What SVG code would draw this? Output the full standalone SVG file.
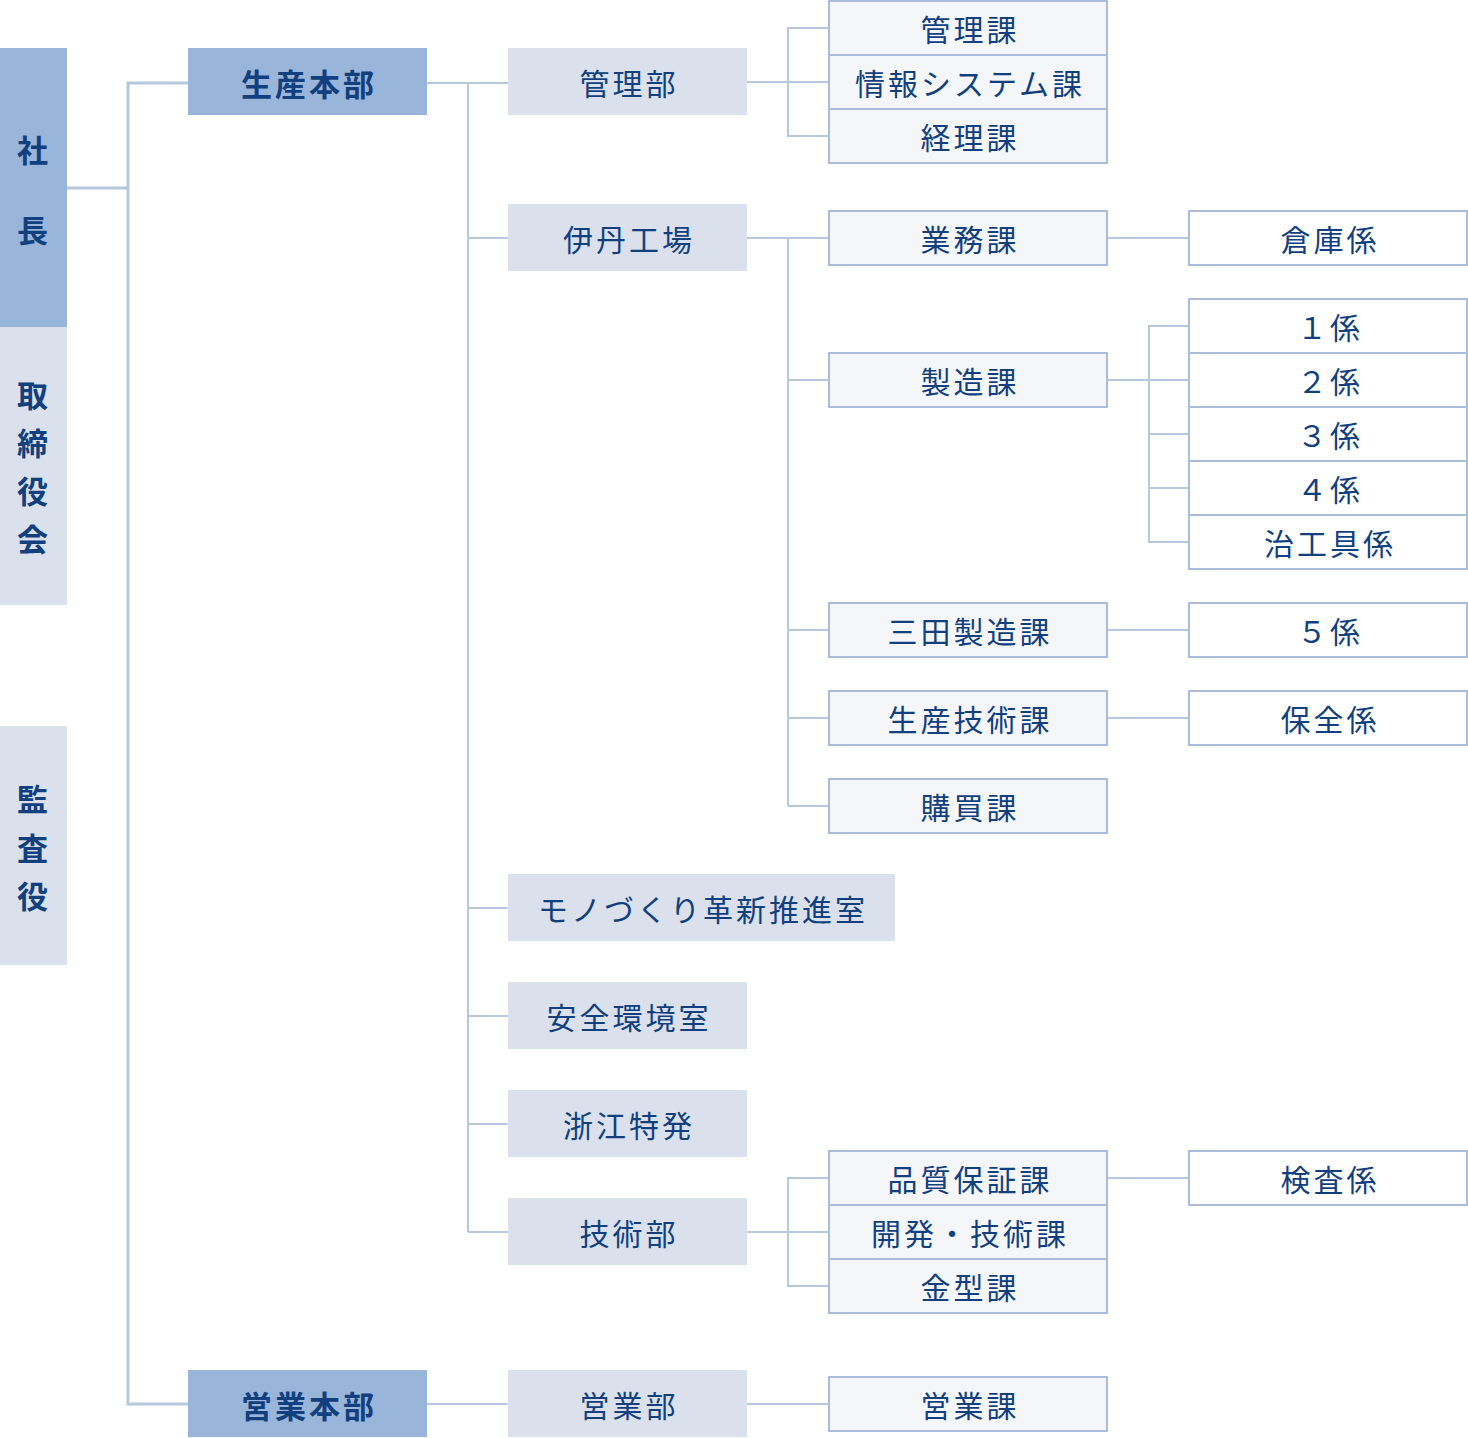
<svg xmlns="http://www.w3.org/2000/svg" width="1468" height="1438" viewBox="0 0 1468 1438">
<style>
text{font-family:"Noto Sans CJK JP","Noto Sans",sans-serif;fill:#123f7e;text-anchor:middle;dominant-baseline:central;font-size:30px;letter-spacing:3px}
.b{font-weight:bold;font-size:31px}
.dk{fill:#99b5da}
.lt{fill:#dae1ec}
.sc{fill:#f4f6fa;stroke:#a9bdd8;stroke-width:2}
.wh{fill:#fff;stroke:#a9bdd8;stroke-width:2}
.c{fill:none;stroke:#b6c8dc;stroke-width:2}
.c3{fill:none;stroke:#b6c8dc;stroke-width:3}
</style>
<g id="connectors">
<path class="c3" d="M67,188H128M188,83H128V1404H188"/>
<path class="c" d="M427,83H508M468,83V1232M468,238H508M468,908H508M468,1016H508M468,1124H508M468,1232H508"/>
<path class="c" d="M747,82H788M829,28H788V136H829M788,82H829"/>
<path class="c" d="M747,238H829M788,238V806M788,380H829M788,630H829M788,718H829M788,806H829"/>
<path class="c" d="M1107,238H1189M1107,630H1189M1107,718H1189M1107,1178H1189"/>
<path class="c" d="M1107,380H1189M1189,326H1149V542H1189M1149,434H1189M1149,488H1189"/>
<path class="c" d="M747,1232H788M829,1178H788V1286H829M788,1232H829"/>
<path class="c" d="M427,1404H508M747,1404H829"/>
</g>
<g id="shacho"><rect class="dk" x="0" y="48" width="67" height="279"/><text class="b" x="34" y="148">社</text><text class="b" x="34" y="228">長</text></g>
<g id="torishimariyakukai"><rect class="lt" x="0" y="327" width="67" height="278"/><text class="b" x="34" y="393">取</text><text class="b" x="34" y="441">締</text><text class="b" x="34" y="489">役</text><text class="b" x="34" y="537">会</text></g>
<g id="kansayaku"><rect class="lt" x="0" y="726" width="67" height="239"/><text class="b" x="34" y="797">監</text><text class="b" x="34" y="846">査</text><text class="b" x="34" y="894">役</text></g>
<g id="seisan-honbu"><rect class="dk" x="188" y="48" width="239" height="67"/><text class="b" x="309" y="82">生産本部</text></g>
<g id="eigyo-honbu"><rect class="dk" x="188" y="1370" width="239" height="67"/><text class="b" x="309" y="1404">営業本部</text></g>
<g id="kanribu"><rect class="lt" x="508" y="48" width="239" height="67"/><text x="629" y="82">管理部</text></g>
<g id="itami"><rect class="lt" x="508" y="204" width="239" height="67"/><text x="629" y="238">伊丹工場</text></g>
<g id="monozukuri"><rect class="lt" x="508" y="874" width="387" height="67"/><text x="703" y="908">モノづくり革新推進室</text></g>
<g id="anzen"><rect class="lt" x="508" y="982" width="239" height="67"/><text x="629" y="1016">安全環境室</text></g>
<g id="zhejiang"><rect class="lt" x="508" y="1090" width="239" height="67"/><text x="629" y="1124">浙江特発</text></g>
<g id="gijutsubu"><rect class="lt" x="508" y="1198" width="239" height="67"/><text x="629" y="1232">技術部</text></g>
<g id="eigyobu"><rect class="lt" x="508" y="1370" width="239" height="67"/><text x="629" y="1404">営業部</text></g>
<g id="kanrika"><rect class="sc" x="829" y="1" width="278" height="54"/><text x="970" y="28">管理課</text></g>
<g id="johoka"><rect class="sc" x="829" y="55" width="278" height="54"/><text x="970" y="82">情報システム課</text></g>
<g id="keirika"><rect class="sc" x="829" y="109" width="278" height="54"/><text x="970" y="136">経理課</text></g>
<g id="gyomuka"><rect class="sc" x="829" y="211" width="278" height="54"/><text x="970" y="238">業務課</text></g>
<g id="seizoka"><rect class="sc" x="829" y="353" width="278" height="54"/><text x="970" y="380">製造課</text></g>
<g id="sanda"><rect class="sc" x="829" y="603" width="278" height="54"/><text x="970" y="630">三田製造課</text></g>
<g id="seigi"><rect class="sc" x="829" y="691" width="278" height="54"/><text x="970" y="718">生産技術課</text></g>
<g id="kobai"><rect class="sc" x="829" y="779" width="278" height="54"/><text x="970" y="806">購買課</text></g>
<g id="hinsho"><rect class="sc" x="829" y="1151" width="278" height="54"/><text x="970" y="1178">品質保証課</text></g>
<g id="kaihatsu"><rect class="sc" x="829" y="1205" width="278" height="54"/><text x="970" y="1232">開発・技術課</text></g>
<g id="kanagata"><rect class="sc" x="829" y="1259" width="278" height="54"/><text x="970" y="1286">金型課</text></g>
<g id="eigyoka"><rect class="sc" x="829" y="1377" width="278" height="54"/><text x="970" y="1404">営業課</text></g>
<g id="soko"><rect class="wh" x="1189" y="211" width="278" height="54"/><text x="1330" y="238">倉庫係</text></g>
<g id="k1"><rect class="wh" x="1189" y="299" width="278" height="54"/><text x="1330" y="326">１係</text></g>
<g id="k2"><rect class="wh" x="1189" y="353" width="278" height="54"/><text x="1330" y="380">２係</text></g>
<g id="k3"><rect class="wh" x="1189" y="407" width="278" height="54"/><text x="1330" y="434">３係</text></g>
<g id="k4"><rect class="wh" x="1189" y="461" width="278" height="54"/><text x="1330" y="488">４係</text></g>
<g id="jigu"><rect class="wh" x="1189" y="515" width="278" height="54"/><text x="1330" y="542">治工具係</text></g>
<g id="k5"><rect class="wh" x="1189" y="603" width="278" height="54"/><text x="1330" y="630">５係</text></g>
<g id="hozen"><rect class="wh" x="1189" y="691" width="278" height="54"/><text x="1330" y="718">保全係</text></g>
<g id="kensa"><rect class="wh" x="1189" y="1151" width="278" height="54"/><text x="1330" y="1178">検査係</text></g>
</svg>
